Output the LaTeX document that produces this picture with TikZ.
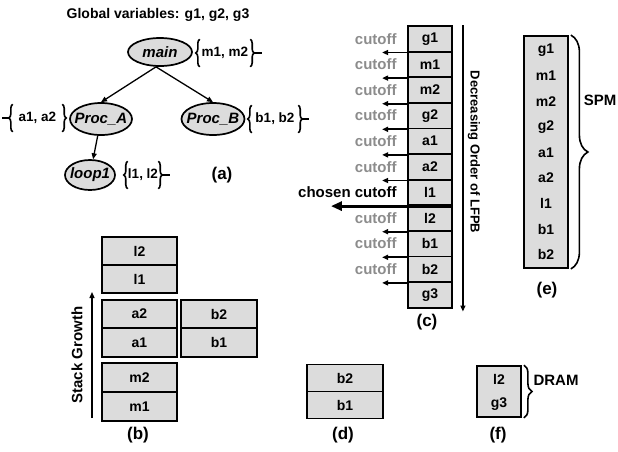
\documentclass[tikz,border=0pt]{standalone}
\usepackage{fontspec}
\setmainfont{Liberation Sans}
\usetikzlibrary{shapes.geometric,decorations.pathreplacing,arrows.meta}
\definecolor{boxgray}{HTML}{DCDCDC}
\definecolor{cutgray}{HTML}{8C8C8C}
\begin{document}
\begin{tikzpicture}[x=1pt,y=-1pt,
  proc/.style={ellipse,draw,line width=1.7pt,fill=boxgray,inner sep=0pt,font=\fontsize{15}{17}\selectfont\bfseries\itshape},
  vars/.style={inner sep=0pt,minimum height=27,font=\fontsize{13.5}{15}\selectfont\bfseries},
  brc/.style={decorate,decoration={brace,amplitude=4pt},line width=1.6pt},
  edge/.style={-{Triangle[length=6pt,width=5pt]},line width=1.3pt},
  cell/.style={draw,line width=1.8pt,fill=boxgray,inner sep=0pt,font=\fontsize{14}{16}\selectfont\bfseries},
  txt/.style={font=\fontsize{14}{16}\selectfont\bfseries},
  cuttxt/.style={anchor=east,text=cutgray,font=\fontsize{15}{17}\selectfont\bfseries},
  cut/.style={-{Triangle[length=6pt,width=5pt]},line width=1.8pt},
  lbl/.style={font=\fontsize{17}{19}\selectfont\bfseries}]
\useasboundingbox (0,0) rectangle (618,451);
% (a) call graph
\node[txt] (glob) at (158,15) {Global variables: g1, g2, g3};
\node[proc,minimum width=64,minimum height=28] (main) at (160,52) {\makebox[0pt]{main}};
\node[proc,minimum width=62,minimum height=32] (proca) at (101,119) {\makebox[0pt]{Proc\_A}};
\node[proc,minimum width=63,minimum height=32] (procb) at (213,119) {\makebox[0pt]{Proc\_B}};
\node[proc,minimum width=50,minimum height=30] (loop) at (90,175) {\makebox[0pt]{loop1}};
\draw[edge] ([xshift=-4pt]main.south) -- (proca.north);
\draw[edge] ([xshift=-4pt]main.south) -- (procb.north);
\draw[edge] (proca) -- (loop);
\foreach \nm/\px/\py/\vw/\vt in {vmain/225/53/50/{m1, m2},va/37.5/118/49/{a1, a2},vb/275/119/46/{b1, b2},vl/143/175/30/{l1, l2}}
{
  \node[vars,minimum width=\vw] (\nm) at (\px,\py) {\vt};
  \draw[brc] (\nm.south west) -- (\nm.north west);
  \draw[brc] (\nm.north east) -- (\nm.south east);
}
\draw[line width=1.6pt] ([xshift=4pt]vmain.east) -- ++(8,0);
\draw[line width=1.6pt] ([xshift=-4pt]va.west) -- ++(-7,0);
\draw[line width=1.6pt] ([xshift=4pt]vb.east) -- ++(7,0);
\draw[line width=1.6pt] ([xshift=4pt]vl.east) -- ++(8,0);
\node[lbl] (laba) at (222,175) {(a)};
% (c) ordered by LFPB
\foreach \v [count=\i] in {g1,m1,m2,g2,a1,a2,l1,l2,b1,b2,g3}
  \node[cell,minimum width=44,minimum height=25.6] (c\i) at (430,13.2+25.6*\i) {\v};
\foreach \i in {1,...,6,8,9,10}
{
  \node[cuttxt] at ([xshift=-7pt]c\i.west) {cutoff};
  \draw[cut] (c\i.south west) -- ++(-25,0);
}
\node[txt,font=\fontsize{15}{17}\selectfont\bfseries,anchor=east] (chosen) at ([xshift=-7pt]c7.west) {chosen cutoff};
\draw[-{Triangle[length=11pt,width=9pt]},line width=3pt] (c7.south east) -- ++(-122,0);
\draw[edge] ([xshift=10pt]c1.north east) -- ([xshift=10pt,yshift=-3pt]c11.south east);
\node[txt,font=\fontsize{13}{15}\selectfont\bfseries,rotate=-90] (lfpb) at (474,152) {Decreasing Order of LFPB};
\node[lbl] (labc) at (427,322) {(c)};
% (e) SPM
\node[cell,minimum width=44,minimum height=232] (ebox) at (546,152) {};
\foreach \v [count=\i] in {g1,m1,m2,g2,a1,a2,l1,b1,b2}
  \node[txt] (e\i) at (546,24.4+25.6*\i) {\v};
\draw[brc,decoration={amplitude=17pt}] ([xshift=2pt]ebox.north east) -- ([xshift=2pt]ebox.south east);
\node[txt,font=\fontsize{15}{17}\selectfont\bfseries] (spm) at (600,100) {SPM};
\node[lbl] (labe) at (547,290) {(e)};
% (b) stack
\foreach \v/\px/\py in {l2/139.5/251,l1/139.5/279,a2/139.5/314,a1/139.5/342.5,m2/139.5/377.5,m1/139.5/406.5}
  \node[cell,minimum width=75,minimum height=28.5] (b\v) at (\px,\py) {\v};
\node[cell,minimum width=76,minimum height=28.5] (bb2) at (219,314) {b2};
\node[cell,minimum width=76,minimum height=28.5] (bb1) at (219,342.5) {b1};
\coordinate (sgbot) at (92,418);
\coordinate (sgtop) at (92,292);
\draw[edge] (sgbot) -- (sgtop);
\node[txt,font=\fontsize{15}{17}\selectfont\bfseries,rotate=90] (sg) at (77,355) {Stack Growth};
\node[lbl] (labb) at (138,435) {(b)};
% (d)
\node[cell,minimum width=76,minimum height=27] (db2) at (345,378) {b2};
\node[cell,minimum width=76,minimum height=27] (db1) at (345,405) {b1};
\node[lbl] (labd) at (343,435) {(d)};
% (f) DRAM
\node[cell,minimum width=44,minimum height=51] (fbox) at (499,391.5) {};
\node[txt] (fl2) at (499,379) {l2};
\node[txt] (fg3) at (499,404) {g3};
\draw[brc,decoration={amplitude=8pt}] ([xshift=2pt]fbox.north east) -- ([xshift=2pt]fbox.south east);
\node[txt,font=\fontsize{15}{17}\selectfont\bfseries] (dram) at (556,380) {DRAM};
\node[lbl] (labf) at (498,435) {(f)};
\end{tikzpicture}
\end{document}
